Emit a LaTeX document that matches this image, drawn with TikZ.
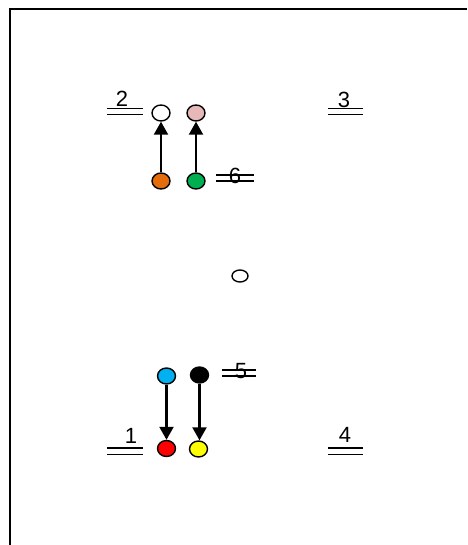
\documentclass[tikz,border=0pt]{standalone}
\usepackage{fontspec}
\setmainfont{Liberation Sans}
\usetikzlibrary{shapes.geometric,arrows.meta}
\definecolor{cOrange}{HTML}{E46C0A}
\definecolor{cGreen}{HTML}{00B050}
\definecolor{cPink}{HTML}{E6B9B8}
\definecolor{cBlue}{HTML}{00B0F0}
\definecolor{cRed}{HTML}{FF0000}
\definecolor{cYellow}{HTML}{FFFF00}
\tikzset{
  dot/.style={ellipse, draw=black, line width=1.4pt, minimum width=18pt, minimum height=16pt, inner sep=0pt},
  lbl/.style={inner sep=0pt, anchor=base, font=\fontsize{22}{22}\selectfont},
  dbl/.style={draw=black, line width=1.6pt},
  conn/.style={line width=2.2pt, -{Triangle[width=14pt,length=13pt]}},
  frame/.style={line width=1.8pt}
}
\begin{document}
\begin{tikzpicture}[x=1pt,y=-1pt]
\useasboundingbox (0,0) rectangle (467,545);
% frame
\coordinate (ftr) at (467,9);
\coordinate (ftl) at (10,9);
\coordinate (fbl) at (10,545);
\draw[frame] (ftr) -- (ftl) -- (fbl);
% dots
\node[dot, fill=white] (w) at (161,113) {};
\node[dot, fill=cPink] (p) at (196,113) {};
\node[dot, fill=cOrange] (o) at (161,181) {};
\node[dot, fill=cGreen] (g) at (196,181) {};
\node[dot, fill=white, minimum width=16pt, minimum height=12pt] (c) at (240,276) {};
\node[dot, fill=cBlue] (b) at (166.5,376) {};
\node[dot, fill=black] (k) at (199.5,375) {};
\node[dot, fill=cRed] (r) at (166.5,448.5) {};
\node[dot, fill=cYellow] (y) at (198.5,449) {};
% arrows
\draw[conn] (o) -- (w);
\draw[conn] (g) -- (p);
\draw[conn] (b) -- (r);
\draw[conn] (k.south) -- (k.south |- y.north);
% labels
\node[lbl] (l2) at (122,107) {2};
\node[lbl] (l3) at (344,108) {3};
\node[lbl] (l6) at (235,184) {6};
\node[lbl] (l5) at (241,378) {5};
\node[lbl] (l1) at (131,443) {1};
\node[lbl] (l4) at (345,442) {4};
% double lines
\draw[dbl] (107,108.5) -- (143,108.5); \draw[dbl] (107,114.5) -- (143,114.5);
\draw[dbl] (328,108.5) -- (363,108.5); \draw[dbl] (328,114.5) -- (363,114.5);
\draw[dbl] (216,175) -- (254,175); \draw[dbl] (216,181) -- (254,181);
\draw[dbl] (222,370) -- (256,370); \draw[dbl] (222,376) -- (256,376);
\draw[dbl] (107,448) -- (143,448); \draw[dbl] (107,454.5) -- (143,454.5);
\draw[dbl] (328,448) -- (363,448); \draw[dbl] (328,454.5) -- (363,454.5);
\end{tikzpicture}
\end{document}
